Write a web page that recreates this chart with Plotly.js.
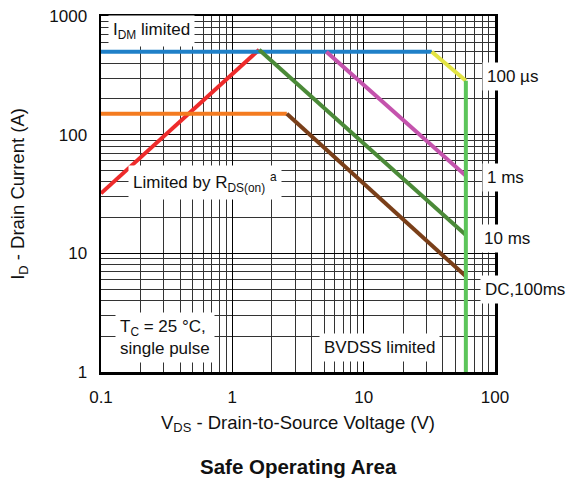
<!DOCTYPE html>
<html>
<head>
<meta charset="utf-8">
<script src="https://cdn.plot.ly/plotly-3.0.1.min.js"></script>
<style>
  html, body { margin: 0; padding: 0; background: #fff; }
  #chart { width: 566px; height: 478px; }
</style>
</head>
<body>
<div id="chart"></div>
<script>
// Safe operating area boundaries (V in volts, I in amps)
const idmX = [0.1, 33];     const idmY = [500, 500];     // I_DM limited
const rdsX = [0.1, 1.6];    const rdsY = [32, 520];      // R_DS(on) limited
const dcFlatX = [0.1, 2.6]; const dcFlatY = [150, 150];  // DC current limit
const us100X = [33, 60];    const us100Y = [500, 285];   // 100 µs
const ms1X = [5.2, 60];     const ms1Y = [500, 45];      // 1 ms
const ms10X = [1.6, 60];    const ms10Y = [520, 14.3];   // 10 ms
const dcX = [2.6, 60];      const dcY = [150, 6.4];      // DC, 100 ms
const bvX = [60, 60];       const bvY = [285, 1];        // BVDSS limited

const xTicks = [0.1, 1, 10, 100];
const xTickText = ['0.1', '1', '10', '100'];
const yTicks = [1, 10, 100, 1000];
const yTickText = ['1', '10', '100', '1000'];

const FONT = '"Liberation Sans", Arial, sans-serif';
const W = 4;

function seg(x, y, color) {
  return { x: x, y: y, type: 'scatter', mode: 'lines',
           line: { color: color, width: W }, hoverinfo: 'skip', showlegend: false };
}

const traces = [
  seg(rdsX, rdsY, '#ee2b2b'),
  seg(dcFlatX, dcFlatY, '#f47b20'),
  seg(idmX, idmY, '#1f80c8'),
  seg(us100X, us100Y, '#e3e443'),
  seg(ms1X, ms1Y, '#c453ad'),
  seg(ms10X, ms10Y, '#4b8a38'),
  seg(dcX, dcY, '#7a3f19'),
  seg(bvX, bvY, '#5cc55a')
];

function label(text, x, y, extra) {
  return Object.assign({
    text: text, x: x, y: y, xref: 'paper', yref: 'paper',
    xanchor: 'center', yanchor: 'middle',
    showarrow: false, bgcolor: '#ffffff', borderpad: 4,
    font: { family: FONT, size: 17, color: '#111' }
  }, extra || {});
}

const layout = {
  width: 566, height: 478,
  margin: { l: 101, r: 71, t: 16, b: 106 },
  paper_bgcolor: '#ffffff', plot_bgcolor: '#ffffff',
  font: { family: FONT, size: 17, color: '#111' },
  showlegend: false,
  xaxis: {
    type: 'log', range: [-1, 2],
    tickvals: xTicks, ticktext: xTickText,
    tickfont: { family: FONT, size: 17, color: '#111' },
    ticks: 'outside', ticklen: 8, tickcolor: 'rgba(0,0,0,0)',
    showgrid: true, gridcolor: '#000', gridwidth: 1,
    minor: { showgrid: true, gridcolor: '#333', gridwidth: 1, dtick: 'D1', ticks: '' },
    showline: true, linecolor: '#000', linewidth: 2.5, mirror: true,
    zeroline: false,
    title: { text: 'V<sub>DS</sub> - Drain-to-Source Voltage (V)', standoff: 10,
             font: { family: FONT, size: 18.5, color: '#111' } }
  },
  yaxis: {
    type: 'log', range: [0, 3],
    tickvals: yTicks, ticktext: yTickText,
    tickfont: { family: FONT, size: 17, color: '#111' },
    ticks: 'outside', ticklen: 8, tickcolor: 'rgba(0,0,0,0)',
    showgrid: true, gridcolor: '#000', gridwidth: 1,
    minor: { showgrid: true, gridcolor: '#333', gridwidth: 1, dtick: 'D1', ticks: '' },
    showline: true, linecolor: '#000', linewidth: 2.5, mirror: true,
    zeroline: false,
    title: { text: 'I<sub>D</sub> - Drain Current (A)', standoff: 20,
             font: { family: FONT, size: 18.5, color: '#111' } }
  },
  annotations: [
    label('I<sub>DM</sub> limited', 0.129, 0.958),
    label('Limited by R<sub>DS(on)</sub> <sup>a</sup>', 0.264, 0.531),
    label('100 µs', 1.044, 0.831),
    label('1 ms', 1.027, 0.545),
    label('10 ms', 1.030, 0.376),
    label('DC,100ms', 1.077, 0.233),
    label('T<sub>C</sub> = 25 °C,<br>single pulse', 0.163, 0.098, { align: 'left' }),
    label('BVDSS limited', 0.708, 0.070),
    { text: '<b>Safe Operating Area</b>', x: 0.5, y: -0.266, xref: 'paper', yref: 'paper',
      xanchor: 'center', yanchor: 'middle', showarrow: false,
      font: { family: FONT, size: 20.5, color: '#111' } }
  ]
};

Plotly.newPlot('chart', traces, layout, { displayModeBar: false, staticPlot: true });
</script>
</body>
</html>
